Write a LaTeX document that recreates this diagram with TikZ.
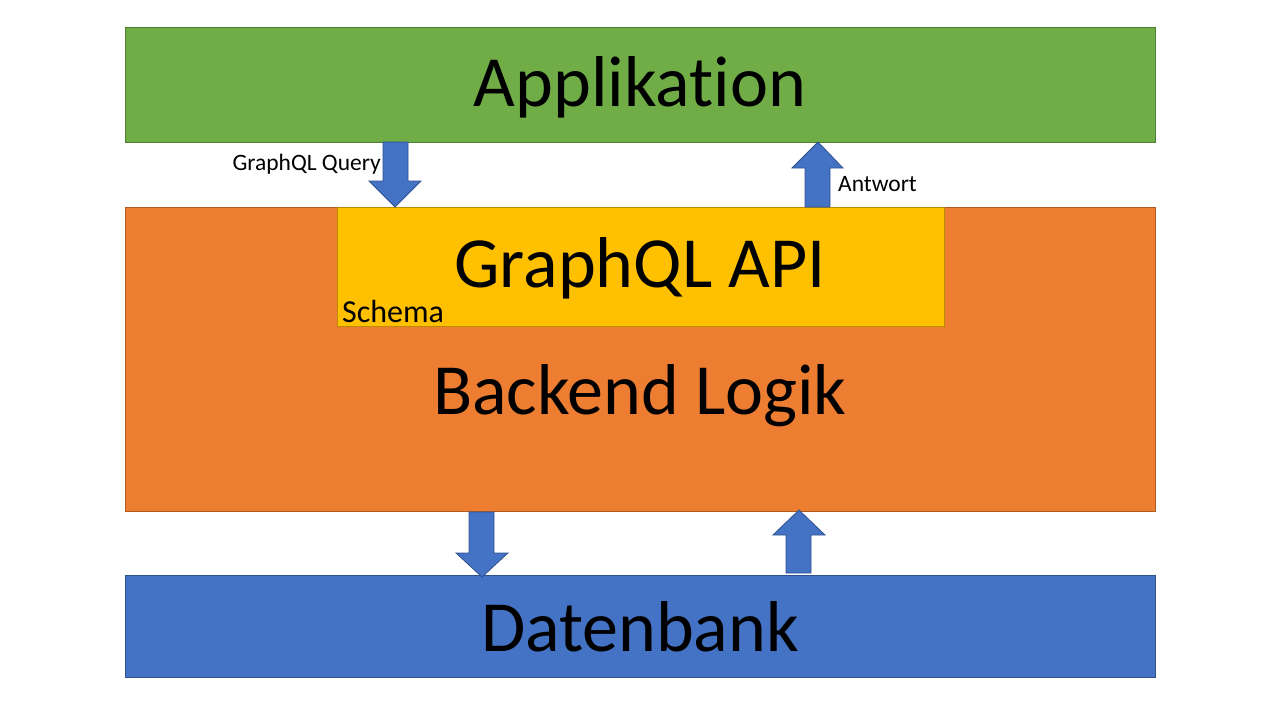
\documentclass[tikz,border=0pt]{standalone}
\usepackage{fontspec}
\setmainfont{Carlito}[Ligatures=NoCommon]
\definecolor{appgreen}{HTML}{70AD47}
\definecolor{appgreenD}{HTML}{507E32}
\definecolor{beorange}{HTML}{ED7D31}
\definecolor{beorangeD}{HTML}{AE5A21}
\definecolor{apiyellow}{HTML}{FFC000}
\definecolor{apiyellowD}{HTML}{BC8C00}
\definecolor{dbblue}{HTML}{4472C4}
\definecolor{dbblueD}{HTML}{2F528F}
\tikzset{
  block/.style={draw=#1, line width=0.8pt},
  blockarrow/.style={fill=dbblue, draw=dbblueD, line width=0.8pt, line join=miter},
  bigtext/.style={font=\fontsize{72}{72}\selectfont, text=black},
  smalltext/.style={font=\fontsize{23.5}{23.5}\selectfont, text=black, inner sep=0pt},
}
\begin{document}
\begin{tikzpicture}[x=1pt,y=-1pt]
\useasboundingbox (0,0) rectangle (1280,720);
% boxes
\path[fill=appgreen, block=appgreenD] (125,27) rectangle (1155,142);
\node[bigtext] (app) at (640,87) {Applikation};
\path[fill=beorange, block=beorangeD] (125,207) rectangle (1155,511);
\path[fill=apiyellow, block=apiyellowD] (337,207) rectangle (944,326);
\node[bigtext] (api) at (640,268) {GraphQL API};
\node[font=\fontsize{32}{32}\selectfont, inner sep=0pt, anchor=west] (schema) at (342,312) {Schema};
\node[bigtext] (backend) at (640,396) {Backend Logik};
\path[fill=dbblue, block=dbblueD] (125,575) rectangle (1155,677);
\node[bigtext] (db) at (640,627) {Datenbank};
% arrows: down (query)
\path[blockarrow] (383,142) -- (408,142) -- (408,181) -- (421,181) -- (395,207) -- (369,181) -- (383,181) -- cycle;
% up (answer)
\path[blockarrow] (805,207) -- (830,207) -- (830,168) -- (843,168) -- (818,142) -- (792,168) -- (805,168) -- cycle;
% down to db
\path[blockarrow] (469,512) -- (494,512) -- (494,553) -- (508,553) -- (482,577) -- (456,553) -- (469,553) -- cycle;
% up from db
\path[blockarrow] (786,573) -- (811,573) -- (811,535) -- (825,535) -- (799,510) -- (773,535) -- (786,535) -- cycle;
% labels
\node[smalltext, anchor=east] (q) at (381,164) {GraphQL Query};
\node[smalltext, anchor=west] (ans) at (838,184) {Antwort};
\end{tikzpicture}
\end{document}
